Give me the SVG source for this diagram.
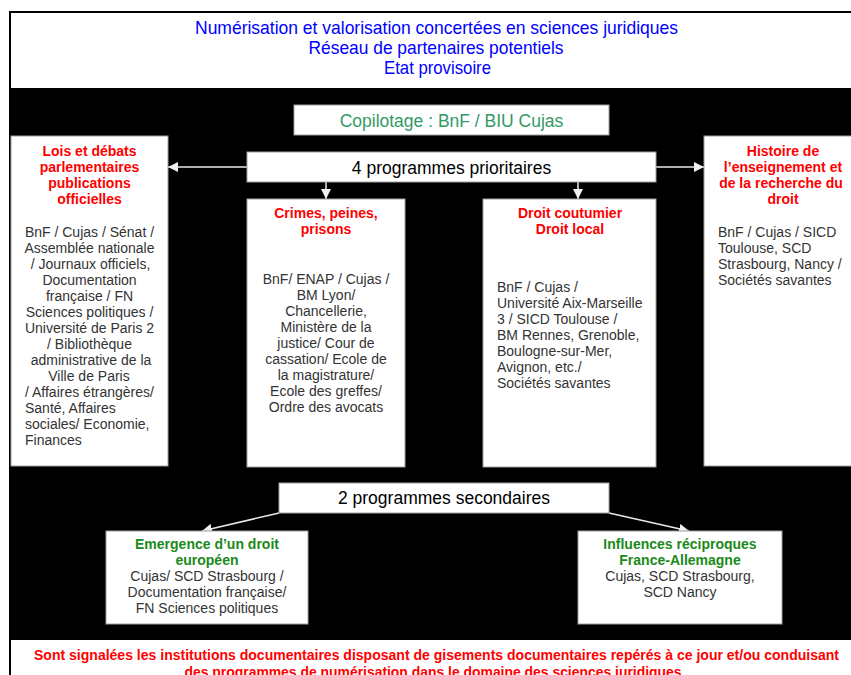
<svg xmlns="http://www.w3.org/2000/svg" width="851" height="675" viewBox="0 0 851 675">
<defs>
<style>
text{font-family:"Liberation Sans",Arial,sans-serif}
.box{fill:#fff;stroke:#a0a0a0;stroke-width:1}
.ttl{font-size:14px;font-weight:bold;fill:#ff0000;text-anchor:middle}
.gt{font-size:14px;font-weight:bold;fill:#1a8a1a;text-anchor:middle}
.bd{font-size:14px;fill:#333;text-anchor:middle}
.bl{font-size:14px;fill:#333}
.big{font-size:17.5px;fill:#000;text-anchor:middle}
.con{stroke:#e8e8e8;stroke-width:1.5;fill:none;marker-end:url(#ah)}
</style>
<marker id="ah" markerUnits="userSpaceOnUse" markerWidth="10" markerHeight="10" refX="10" refY="5" orient="auto">
<path d="M0,0 L10,5 L0,10 z" fill="#f0f0f0"/>
</marker>
</defs>
<rect x="10" y="12" width="900" height="700" fill="#fff" stroke="#000" stroke-width="2"/>
<rect x="10" y="88" width="900" height="552" fill="#000"/>
<g id="title">
<text x="436.5" y="34" font-size="18.5" fill="#0000ff" text-anchor="middle" textLength="483" lengthAdjust="spacingAndGlyphs">Numérisation et valorisation concertées en sciences juridiques</text>
<text x="436" y="54" font-size="18.5" fill="#0000ff" text-anchor="middle" textLength="255" lengthAdjust="spacingAndGlyphs">Réseau de partenaires potentiels</text>
<text x="437.5" y="74" font-size="18.5" fill="#0000ff" text-anchor="middle" textLength="107" lengthAdjust="spacingAndGlyphs">Etat provisoire</text>
</g>
<g id="connectors">
<line class="con" x1="247" y1="167" x2="168" y2="167"/>
<line class="con" x1="656" y1="167" x2="704" y2="167"/>
<line class="con" x1="326" y1="182" x2="326" y2="199"/>
<line class="con" x1="578" y1="182" x2="578" y2="199"/>
<line class="con" x1="279" y1="513" x2="202" y2="531"/>
<line class="con" x1="609" y1="513" x2="689" y2="531"/>
</g>
<g id="copilotage">
<rect class="box" x="294" y="105" width="315" height="30"/>
<text x="451.5" y="127" font-size="17.5" fill="#339966" text-anchor="middle">Copilotage : BnF / BIU Cujas</text>
</g>
<g id="prioritaires">
<rect class="box" x="247" y="152" width="409" height="30"/>
<text class="big" x="451.5" y="174">4 programmes prioritaires</text>
</g>
<g id="lois">
<rect class="box" x="11" y="136" width="157" height="330"/>
<text class="ttl" x="89.5" y="156">Lois et débats</text>
<text class="ttl" x="89.5" y="172">parlementaires</text>
<text class="ttl" x="89.5" y="188">publications</text>
<text class="ttl" x="89.5" y="204">officielles</text>
<text class="bd" x="89.5" y="237">BnF / Cujas / Sénat /</text>
<text class="bd" x="89.5" y="253">Assemblée nationale</text>
<text class="bd" x="90.5" y="269">/ Journaux officiels,</text>
<text class="bd" x="89.5" y="285">Documentation</text>
<text class="bd" x="89.5" y="301">française / FN</text>
<text class="bd" x="89.5" y="317">Sciences politiques /</text>
<text class="bd" x="89.5" y="333">Université de Paris 2</text>
<text class="bd" x="89.5" y="349">/ Bibliothèque</text>
<text class="bd" x="91" y="365">administrative de la</text>
<text class="bd" x="89" y="381">Ville de Paris</text>
<text class="bl" x="25" y="397">/ Affaires étrangères/</text>
<text class="bl" x="25" y="413">Santé, Affaires</text>
<text class="bl" x="25" y="429">sociales/ Economie,</text>
<text class="bl" x="25" y="445">Finances</text>
</g>
<g id="crimes">
<rect class="box" x="247" y="199" width="158" height="268"/>
<text class="ttl" x="326" y="218">Crimes, peines,</text>
<text class="ttl" x="326" y="234">prisons</text>
<text class="bd" x="326" y="284">BnF/ ENAP / Cujas /</text>
<text class="bd" x="326" y="300">BM Lyon/</text>
<text class="bd" x="326" y="316">Chancellerie,</text>
<text class="bd" x="326" y="332">Ministère de la</text>
<text class="bd" x="326" y="348">justice/ Cour de</text>
<text class="bd" x="326" y="364">cassation/ Ecole de</text>
<text class="bd" x="326" y="380">la magistrature/</text>
<text class="bd" x="326" y="396">Ecole des greffes/</text>
<text class="bd" x="326" y="412">Ordre des avocats</text>
</g>
<g id="coutumier">
<rect class="box" x="483" y="199" width="173" height="268"/>
<text class="ttl" x="570" y="218">Droit coutumier</text>
<text class="ttl" x="570" y="234">Droit local</text>
<text class="bl" x="497" y="292">BnF / Cujas /</text>
<text class="bl" x="497" y="308">Université Aix-Marseille</text>
<text class="bl" x="497" y="324">3 / SICD Toulouse /</text>
<text class="bl" x="497" y="340">BM Rennes, Grenoble,</text>
<text class="bl" x="497" y="356">Boulogne-sur-Mer,</text>
<text class="bl" x="497" y="372">Avignon, etc./</text>
<text class="bl" x="497" y="388">Sociétés savantes</text>
</g>
<g id="histoire">
<rect class="box" x="704" y="136" width="200" height="330"/>
<text class="ttl" x="783" y="156">Histoire de</text>
<text class="ttl" x="783" y="172">l’enseignement et</text>
<text class="ttl" x="781" y="188">de la recherche du</text>
<text class="ttl" x="783" y="204">droit</text>
<text class="bl" x="718" y="237">BnF / Cujas / SICD</text>
<text class="bl" x="718" y="253">Toulouse, SCD</text>
<text class="bl" x="718" y="269">Strasbourg, Nancy /</text>
<text class="bl" x="718" y="285">Sociétés savantes</text>
</g>
<g id="secondaires">
<rect class="box" x="279" y="483" width="330" height="30"/>
<text class="big" x="444" y="504">2 programmes secondaires</text>
</g>
<g id="europeen">
<rect class="box" x="106" y="531" width="202" height="93"/>
<text class="gt" x="207" y="549">Emergence d’un droit</text>
<text class="gt" x="207" y="565">européen</text>
<text class="bd" x="207" y="581">Cujas/ SCD Strasbourg /</text>
<text class="bd" x="207" y="597">Documentation française/</text>
<text class="bd" x="207" y="613">FN Sciences politiques</text>
</g>
<g id="allemagne">
<rect class="box" x="578" y="531" width="204" height="93"/>
<text class="gt" x="680" y="549">Influences réciproques</text>
<text class="gt" x="680" y="565">France-Allemagne</text>
<text class="bd" x="680" y="581">Cujas, SCD Strasbourg,</text>
<text class="bd" x="680" y="597">SCD Nancy</text>
</g>
<g id="footer">
<text x="436.5" y="660" font-size="15" font-weight="bold" fill="#ff0000" text-anchor="middle" textLength="805" lengthAdjust="spacingAndGlyphs">Sont signalées les institutions documentaires disposant de gisements documentaires repérés à ce jour et/ou conduisant</text>
<text x="433" y="677" font-size="15" font-weight="bold" fill="#ff0000" text-anchor="middle" textLength="497" lengthAdjust="spacingAndGlyphs">des programmes de numérisation dans le domaine des sciences juridiques</text>
</g>
</svg>
